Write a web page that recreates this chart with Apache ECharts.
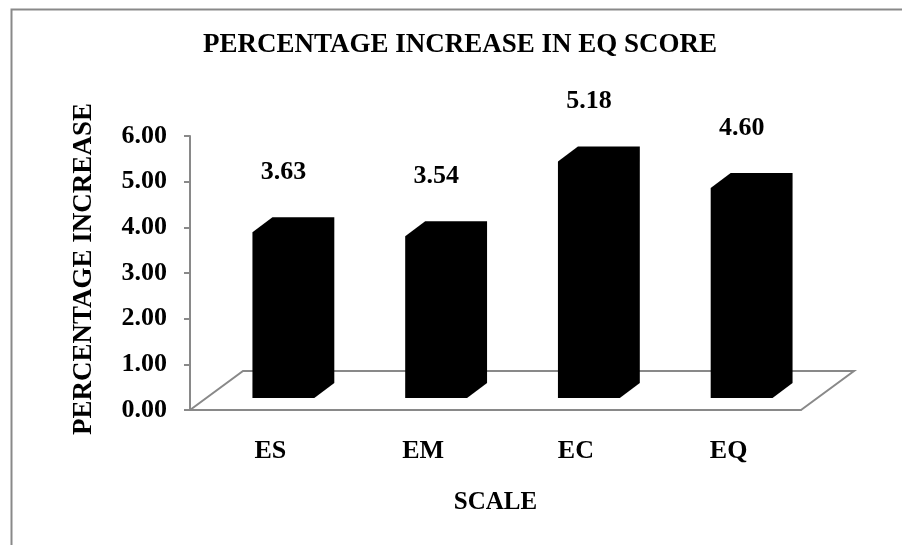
<!DOCTYPE html>
<html>
<head>
<meta charset="utf-8">
<script src="https://cdn.jsdelivr.net/npm/echarts@6/dist/echarts.min.js"></script>
<style>
  html, body { margin: 0; padding: 0; background: #fff; }
  #chart { width: 902px; height: 545px; }
</style>
</head>
<body>
<div id="chart"></div>
<script>
// data
const categories = ['ES', 'EM', 'EC', 'EQ'];
const increase = [3.63, 3.54, 5.18, 4.60];
const yTicks = [0, 1, 2, 3, 4, 5, 6];

const serif = "'Liberation Serif', 'Times New Roman', serif";
const gray = '#898989';

// 3d look: floor depth, where the bar front sits, bar depth
const FLOOR = [53, -39];
const FRONT = [17, -12];
const DEPTH = [20, -15];

const chart = echarts.init(document.getElementById('chart'));

function renderFloor(params, api) {
  const cs = params.coordSys;
  const x0 = cs.x, y0 = cs.y + cs.height, x1 = cs.x + cs.width;
  return {
    type: 'polyline',
    shape: {
      points: [[x0, y0], [x0 + FLOOR[0], y0 + FLOOR[1]], [x1 + FLOOR[0], y0 + FLOOR[1]], [x1, y0]]
    },
    style: { stroke: gray, lineWidth: 2, fill: null }
  };
}

function renderBar(params, api) {
  const i = api.value(0);
  const v = api.value(1);
  const base = api.coord([i, 0]);
  const top = api.coord([i, v]);
  const band = api.size([1, 0])[0];
  const w = band * 0.405;
  const cx = base[0] + FRONT[0];
  const L = cx - w / 2, R = cx + w / 2;
  const B = base[1] + FRONT[1], T = top[1] + FRONT[1];
  return {
    type: 'group',
    children: [{
      type: 'polygon',
      shape: {
        points: [[L, T], [L + DEPTH[0], T + DEPTH[1]], [R + DEPTH[0], T + DEPTH[1]],
                 [R + DEPTH[0], B + DEPTH[1]], [R, B], [L, B]]
      },
      style: { fill: '#000' }
    }, {
      type: 'text',
      x: cx,
      y: T - 60,
      style: {
        text: v.toFixed(2),
        fill: '#000',
        font: 'bold 26px ' + serif,
        align: 'center',
        verticalAlign: 'middle'
      }
    }]
  };
}

chart.setOption({
  animation: false,
  backgroundColor: '#fff',
  graphic: [{
    type: 'rect',
    left: 9, top: 7,
    shape: { width: 1000, height: 1000 },
    style: { fill: null, stroke: gray, lineWidth: 2 }
  }],
  title: {
    text: 'PERCENTAGE INCREASE IN EQ SCORE',
    left: 460,
    textAlign: 'center',
    top: 32,
    padding: 0,
    textStyle: { fontFamily: serif, fontWeight: 'bold', fontSize: 27, color: '#000' }
  },
  grid: { left: 190, right: 101, top: 136, bottom: 135 },
  xAxis: {
    type: 'category',
    data: categories,
    name: 'SCALE',
    nameLocation: 'middle',
    nameGap: 80,
    nameTextStyle: { fontFamily: serif, fontWeight: 'bold', fontSize: 25, color: '#000' },
    axisLine: { lineStyle: { color: gray, width: 2 } },
    axisTick: { length: 8, lineStyle: { color: gray, width: 2 } },
    axisLabel: {
      margin: 28,
      padding: [0, 0, 0, 8],
      fontFamily: serif, fontWeight: 'bold', fontSize: 26, color: '#000'
    }
  },
  yAxis: {
    type: 'value',
    min: yTicks[0],
    max: yTicks[yTicks.length - 1],
    interval: 1,
    name: 'PERCENTAGE INCREASE',
    nameLocation: 'middle',
    nameGap: 92,
    nameTextStyle: { fontFamily: serif, fontWeight: 'bold', fontSize: 27, color: '#000', padding: [0, 0, 0, 8] },
    axisLine: { show: true, lineStyle: { color: gray, width: 2 } },
    axisTick: { show: true, length: 6, lineStyle: { color: gray, width: 2 } },
    splitLine: { show: false },
    axisLabel: {
      margin: 23,
      formatter: val => val.toFixed(2),
      fontFamily: serif, fontWeight: 'bold', fontSize: 26, color: '#000'
    }
  },
  series: [{
    type: 'custom',
    renderItem: renderFloor,
    data: [[0, 0]],
    z: 1,
    silent: true
  }, {
    type: 'custom',
    renderItem: renderBar,
    data: increase.map((v, i) => [i, v]),
    encode: { x: 0, y: 1 },
    z: 2
  }]
});
</script>
</body>
</html>
